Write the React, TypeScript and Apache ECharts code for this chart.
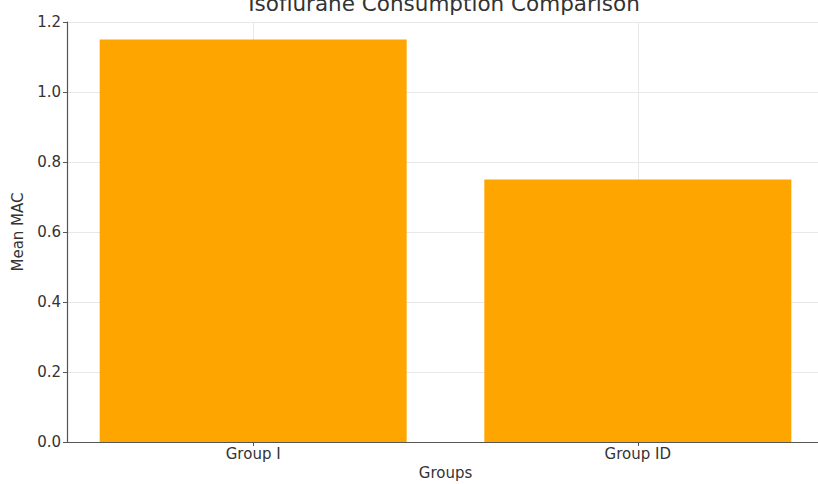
import React, { useEffect, useRef } from "react";
import * as echarts from "echarts";

const categories = ["Group I", "Group ID"];
const meanMAC = [1.15, 0.75];
const yTicks = [0, 0.2, 0.4, 0.6, 0.8, 1.0, 1.2];

const FONT = "DejaVu Sans";

export default function App() {
  const ref = useRef<HTMLDivElement>(null);
  useEffect(() => {
    document.body.style.margin = "0";
    if (!ref.current) return;
    const chart = echarts.init(ref.current, null, { renderer: "svg" });
    const catIdx = categories.map((_, i) => i);
    chart.setOption({
      animation: false,
      backgroundColor: "#ffffff",
      title: {
        text: "Isoflurane Consumption Comparison",
        left: 439,
        top: -13,
        textAlign: "center",
        textStyle: { fontFamily: FONT, fontSize: 21.5, fontWeight: "normal", color: "#333" },
      },
      grid: { left: 67, right: -6, top: 22, bottom: 42, outerBoundsMode: "none" },
      xAxis: {
        type: "value",
        min: -0.484,
        max: 1.484,
        name: "Groups",
        nameLocation: "middle",
        nameGap: 22,
        nameTextStyle: { fontFamily: FONT, fontSize: 15, color: "#333" },
        axisLine: { show: true, onZero: false, lineStyle: { color: "#555", width: 1.2 } },
        axisTick: { show: true, customValues: catIdx, length: 4, lineStyle: { color: "#555" } },
        axisLabel: {
          customValues: catIdx,
          margin: 4,
          fontFamily: FONT,
          fontSize: 15,
          color: "#333",
          formatter: (v: number) => categories[Math.round(v)] ?? "",
        },
        splitLine: { show: true, lineStyle: { color: "#e8e8e8", width: 1 } },
      },
      yAxis: {
        type: "value",
        min: yTicks[0],
        max: yTicks[yTicks.length - 1],
        interval: 0.2,
        name: "Mean MAC",
        nameLocation: "middle",
        nameGap: 42,
        nameTextStyle: { fontFamily: FONT, fontSize: 15, color: "#333" },
        axisLine: { show: true, onZero: false, lineStyle: { color: "#555", width: 1.2 } },
        axisTick: { show: true, length: 4, lineStyle: { color: "#555" } },
        axisLabel: {
          margin: 6,
          fontFamily: FONT,
          fontSize: 15,
          color: "#333",
          formatter: (v: number) => v.toFixed(1),
        },
        splitLine: { show: true, lineStyle: { color: "#e8e8e8", width: 1 } },
      },
      series: [
        {
          type: "bar",
          barWidth: 307,
          itemStyle: { color: "#ffa500" },
          data: categories.map((_, i) => [i, meanMAC[i]]),
        },
      ],
    });
    return () => chart.dispose();
  }, []);
  return <div ref={ref} style={{ width: 818, height: 484 }} />;
}
